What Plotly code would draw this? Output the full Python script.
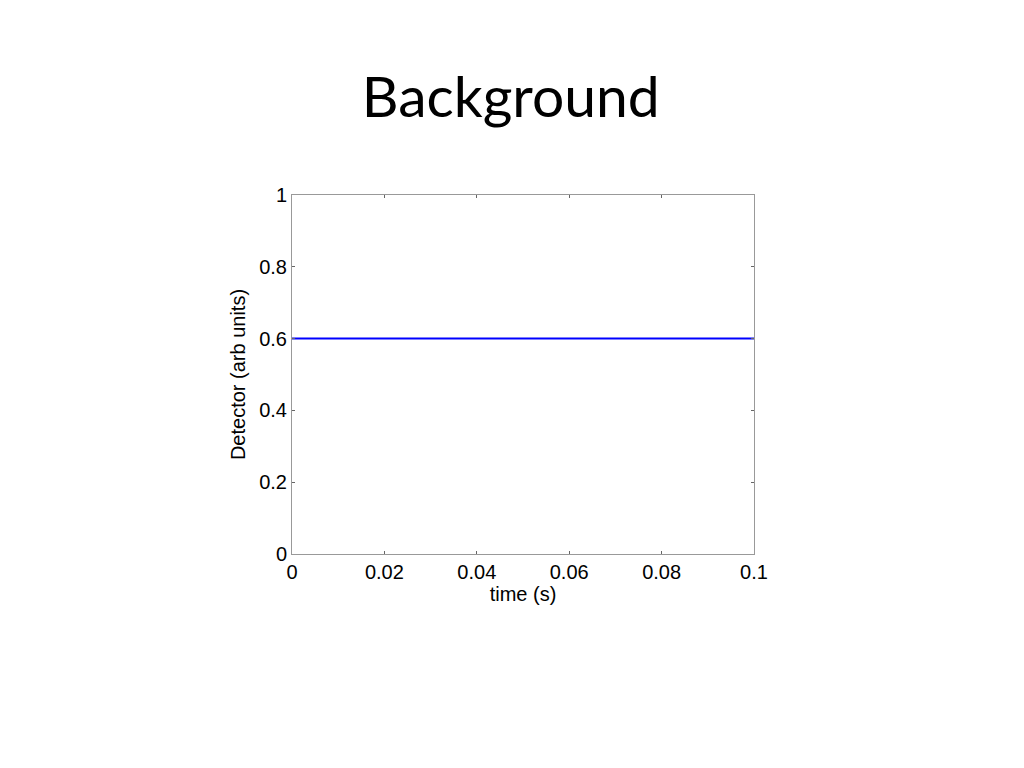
import plotly.graph_objects as go

time_s = [0.0, 0.1]
detector = [0.6, 0.6]
x_ticks = [0, 0.02, 0.04, 0.06, 0.08, 0.1]
x_labels = ["0", "0.02", "0.04", "0.06", "0.08", "0.1"]
y_ticks = [0, 0.2, 0.4, 0.6, 0.8, 1]
y_labels = ["0", "0.2", "0.4", "0.6", "0.8", "1"]

fig = go.Figure()
fig.add_trace(go.Scatter(x=time_s, y=detector, mode="lines",
                         line=dict(color="#0000FF", width=2), showlegend=False))

axis_common = dict(showline=True, linecolor="#999999", linewidth=1, mirror="ticks",
                   ticks="inside", ticklen=3, tickcolor="#666666", showgrid=False,
                   zeroline=False, tickfont=dict(family="Liberation Sans, Arial", size=20, color="black"))

fig.update_layout(
    width=1024, height=768,
    margin=dict(l=284, r=278, t=187, b=222),
    paper_bgcolor="white", plot_bgcolor="white",
    title=dict(text="Background", x=0.491, xanchor="center", y=0.884, yanchor="middle",
               font=dict(family="Lato, Carlito, Calibri", size=57, color="black")),
    xaxis=dict(range=[0, 0.1], tickvals=x_ticks, ticktext=x_labels,
               title=dict(text="time (s)", standoff=2,
                          font=dict(family="Liberation Sans, Arial", size=20, color="black")),
               **axis_common),
    yaxis=dict(range=[0, 1], tickvals=y_ticks, ticktext=y_labels,
               title=dict(text="Detector (arb units)", standoff=8,
                          font=dict(family="Liberation Sans, Arial", size=20, color="black")),
               **axis_common),
)

fig.write_html("out.html")
